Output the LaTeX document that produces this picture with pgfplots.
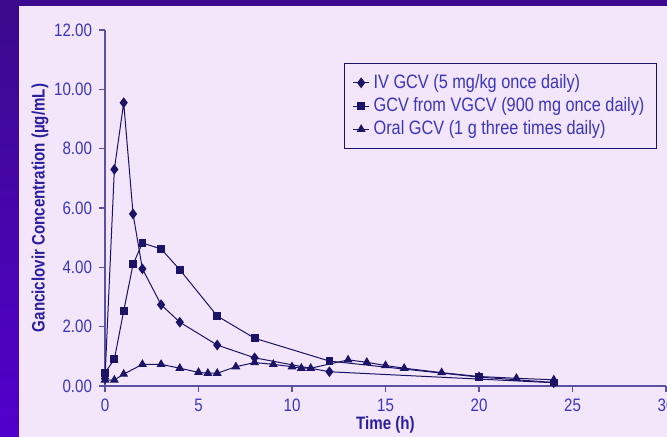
\documentclass[border=0pt]{standalone}
\usepackage{fontspec}
\setmainfont{Liberation Sans}[FakeStretch=0.84]
\usepackage{pgfplots}
\pgfplotsset{compat=1.18}

\definecolor{bordertop}{HTML}{3C0A8C}
\definecolor{borderbot}{HTML}{5200CC}
\definecolor{panel}{HTML}{F3E5FA}
\definecolor{ticktext}{HTML}{3B36BC}
\definecolor{labeltext}{HTML}{2B1F9E}
\definecolor{axisline}{HTML}{5B52A3}
\definecolor{dataline}{HTML}{1B1466}

\begin{document}
\begin{tikzpicture}
\clip (0,0) rectangle (333.5pt,218.5pt);
\shade[top color=bordertop, bottom color=borderbot] (0,0) rectangle (333.5pt,218.5pt);
\fill[panel] (9.5pt,0) rectangle (333.5pt,215.3pt);
\begin{axis}[
    at={(52.5pt,25.5pt)}, anchor=south west,
    scale only axis, width=280.5pt, height=178pt,
    xmin=0, xmax=30, ymin=0, ymax=12,
    axis lines*=left,
    axis line style={-, color=axisline, line width=0.7pt},
    tick align=outside, major tick length=3pt,
    tick style={color=axisline, line width=0.6pt},
    xtick={0,5,...,30}, ytick={0,2,...,12},
    yticklabel style={/pgf/number format/.cd, fixed, fixed zerofill, precision=2},
    /pgf/number format/assume math mode=true,
    tick label style={font=\fontsize{9}{10}\selectfont, text=ticktext},
    xlabel={\textbf{Time (h)}},
    ylabel={\textbf{Ganciclovir Concentration (µg/mL)}},
    label style={font=\fontsize{9}{10}\selectfont, text=labeltext},
    xlabel style={at={(axis description cs:0.5,-0.108)}, anchor=center},
    ylabel style={at={(axis description cs:-0.116,0.5)}, anchor=center},
    legend style={at={(0.984,0.907)}, anchor=north east, draw=dataline,
        fill=none, font=\fontsize{9.7}{10}\selectfont, text=ticktext,
        line width=0.6pt, row sep=-0.9pt, inner xsep=4pt, inner ysep=3.3pt},
    legend cell align=left,
    legend image code/.code={
        \draw[mark repeat=2, mark phase=2]
        plot coordinates {(0cm,0cm) (0.14cm,0cm) (0.28cm,0cm)};},
    every axis plot/.append style={color=dataline, line width=0.5pt},
]
\addplot[mark=diamond*, mark size=2.3pt] coordinates {
(0,0.25) (0.5,7.3) (1,9.55) (1.5,5.8) (2,3.95) (3,2.74) (4,2.15) (6,1.38)
(8,0.95) (12,0.48) (24,0.11)};
\addlegendentry{IV GCV (5 mg/kg once daily)}
\addplot[mark=square*, mark size=1.7pt] coordinates {
(0,0.45) (0.5,0.9) (1,2.53) (1.5,4.1) (2,4.82) (3,4.62) (4,3.92) (6,2.36)
(8,1.61) (12,0.84) (20,0.3) (24,0.12)};
\addlegendentry{GCV from VGCV (900 mg once daily)}
\addplot[mark=triangle*, mark size=2.1pt] coordinates {
(0,0.2) (0.5,0.2) (1,0.4) (2,0.73) (3,0.73) (4,0.6) (5,0.46) (5.5,0.43)
(6,0.43) (7,0.65) (8,0.79) (9,0.73) (10,0.65) (10.5,0.6) (11,0.6) (13,0.88)
(14,0.8) (15,0.69) (16,0.6) (18,0.45) (20,0.32) (22,0.26) (24,0.21)};
\addlegendentry{Oral GCV (1 g three times daily)}
\end{axis}
\end{tikzpicture}
\end{document}
